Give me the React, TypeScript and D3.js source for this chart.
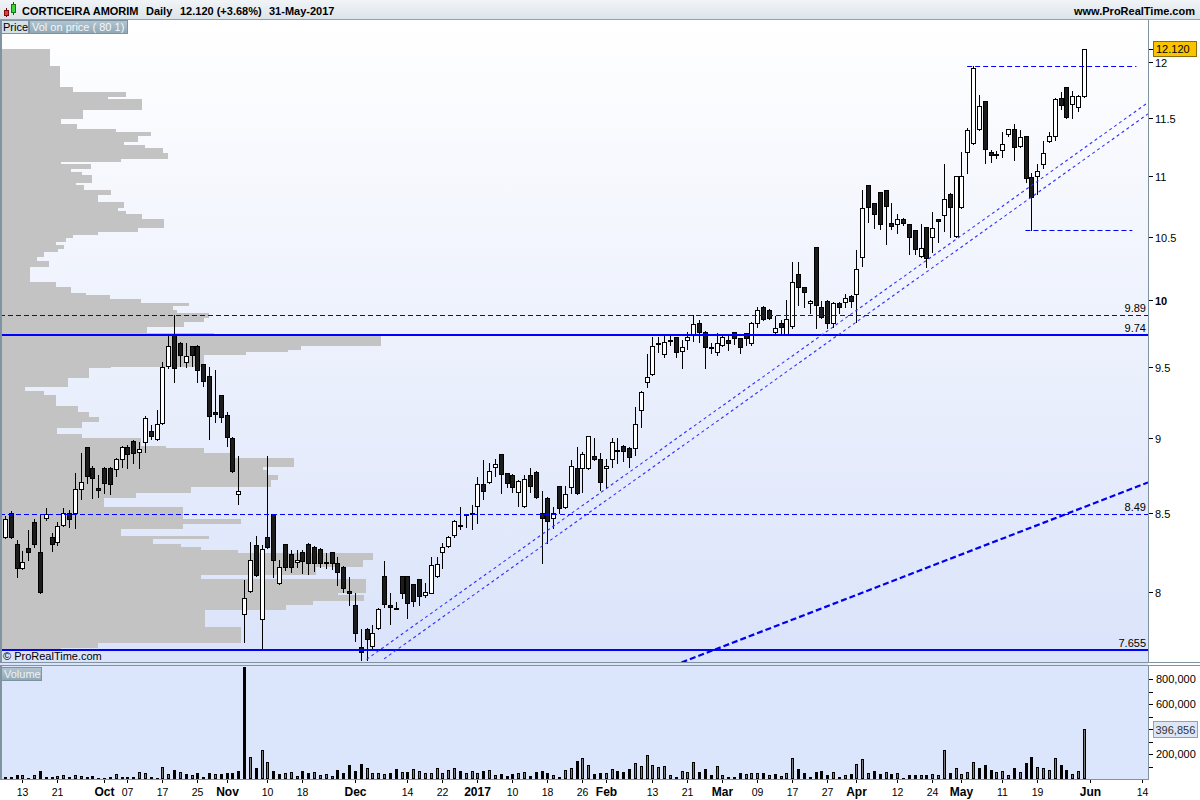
import React from 'react';
import * as d3 from 'd3';

const FONT = '"Liberation Sans", Arial, Helvetica, sans-serif';

// ---------- calendar (categories) ----------
const firstSession = '2016-09-08';
const lastAxisSession = '2017-06-14';
const marketHolidays = ['2016-12-26', '2017-04-14', '2017-04-17', '2017-05-01'];

// ---------- daily OHLC (EUR), 8-Sep-2016 .. 31-May-2017 ----------
const opens = [
  8.344, 8.499, 8.299, 8.148, 8.274, 8.440, 8.248, 8.466, 8.344, 8.312,
  8.421, 8.499, 8.499, 8.656, 8.939, 8.796, 8.662, 8.796, 8.796, 8.790,
  8.857, 8.939, 8.980, 8.904, 8.973, 9.049, 8.994, 9.104, 9.510, 9.738,
  9.679, 9.539, 9.657, 9.657, 9.525, 9.438, 9.181, 9.302, 9.160, 9.001,
  8.623, 7.866, 8.006, 8.293, 7.836, 8.344, 8.492, 8.055, 8.299, 8.236,
  8.186, 8.248, 8.299, 8.280, 8.267, 8.186, 8.248, 8.179, 8.154, 8.006,
  7.921, 7.670, 7.776, 7.676, 7.782, 8.099, 7.921, 7.902, 8.099, 8.099,
  8.049, 8.080, 7.982, 7.994, 8.099, 8.248, 8.286, 8.357, 8.421, 8.492,
  8.499, 8.544, 8.689, 8.703, 8.803, 8.891, 8.763, 8.749, 8.636, 8.544,
  8.749, 8.770, 8.499, 8.596, 8.466, 8.676, 8.538, 8.669, 8.796, 8.796,
  8.796, 8.877, 8.857, 8.796, 8.857, 8.911, 8.946, 8.932, 8.932, 9.195,
  9.395, 9.452, 9.679, 9.598, 9.701, 9.723, 9.620, 9.701, 9.746, 9.828,
  9.761, 9.649, 9.613, 9.664, 9.701, 9.761, 9.716, 9.753, 9.679, 9.828,
  9.949, 9.926, 9.761, 9.828, 9.746, 9.806, 10.204, 10.102, 9.980, 10.417,
  9.949, 9.995, 9.828, 9.980, 9.988, 10.033, 10.049, 10.337, 10.923, 10.774,
  10.864, 10.881, 10.610, 10.602, 10.642, 10.602, 10.553, 10.345, 10.577, 10.497,
  10.642, 10.675, 10.848, 10.505, 10.740, 11.202, 11.279, 11.401, 11.647, 11.202,
  11.185, 11.219, 11.357, 11.401, 11.254, 11.340, 10.989, 10.998, 11.100, 11.296,
  11.340, 11.674, 11.773, 11.621, 11.594, 11.692,
];
const highs = [
  8.478, 8.512, 8.325, 8.255, 8.389, 8.459, 8.492, 8.531, 8.370, 8.440,
  8.531, 8.518, 8.763, 8.898, 8.939, 8.810, 8.749, 8.803, 8.803, 8.864,
  8.946, 8.952, 8.987, 8.973, 9.153, 9.090, 9.195, 9.539, 9.738, 9.890,
  9.686, 9.679, 9.657, 9.664, 9.525, 9.503, 9.481, 9.302, 9.181, 9.008,
  8.877, 8.074, 8.312, 8.350, 8.293, 8.877, 8.490, 8.198, 8.299, 8.261,
  8.261, 8.261, 8.306, 8.286, 8.274, 8.242, 8.248, 8.217, 8.161, 8.093,
  7.994, 7.776, 7.782, 7.800, 7.902, 8.192, 7.994, 7.939, 8.099, 8.099,
  8.049, 8.080, 8.055, 8.217, 8.217, 8.306, 8.350, 8.453, 8.538, 8.492,
  8.551, 8.736, 8.850, 8.830, 8.857, 8.891, 8.763, 8.756, 8.716, 8.749,
  8.796, 8.776, 8.643, 8.603, 8.538, 8.676, 8.676, 8.850, 8.939, 8.904,
  9.015, 9.001, 8.898, 8.857, 9.001, 9.001, 8.952, 8.939, 9.216, 9.330,
  9.598, 9.723, 9.723, 9.738, 9.731, 9.723, 9.701, 9.761, 9.890, 9.851,
  9.768, 9.679, 9.753, 9.731, 9.731, 9.761, 9.716, 9.753, 9.836, 9.949,
  9.957, 9.934, 9.881, 9.851, 10.003, 10.297, 10.297, 10.102, 10.003, 10.417,
  9.995, 10.003, 9.988, 9.988, 10.049, 10.041, 10.393, 10.881, 10.923, 10.774,
  10.864, 10.881, 10.774, 10.683, 10.650, 10.602, 10.553, 10.602, 10.577, 10.700,
  10.642, 11.100, 10.856, 10.998, 11.202, 11.409, 11.964, 11.701, 11.647, 11.219,
  11.211, 11.375, 11.401, 11.445, 11.392, 11.340, 11.024, 11.100, 11.296, 11.375,
  11.674, 11.728, 11.773, 11.737, 11.701, 12.120,
];
const lows = [
  8.338, 8.338, 8.093, 8.142, 8.198, 8.280, 7.995, 8.453, 8.255, 8.293,
  8.415, 8.408, 8.402, 8.590, 8.696, 8.596, 8.603, 8.630, 8.623, 8.743,
  8.803, 8.796, 8.830, 8.796, 8.904, 8.994, 8.987, 9.097, 9.496, 9.395,
  9.510, 9.503, 9.510, 9.395, 9.366, 8.994, 9.111, 9.111, 8.946, 8.770,
  8.557, 7.700, 8.000, 8.099, 7.655, 8.274, 8.093, 8.049, 8.136, 8.124,
  8.154, 8.117, 8.111, 8.130, 8.154, 8.148, 8.142, 8.043, 8.000, 7.921,
  7.705, 7.594, 7.594, 7.653, 7.776, 7.909, 7.806, 7.896, 7.963, 7.842,
  7.915, 7.921, 7.970, 7.994, 8.093, 8.148, 8.280, 8.344, 8.395, 8.408,
  8.395, 8.434, 8.590, 8.696, 8.743, 8.630, 8.669, 8.636, 8.544, 8.538,
  8.636, 8.596, 8.179, 8.306, 8.402, 8.499, 8.531, 8.630, 8.625, 8.636,
  8.790, 8.850, 8.649, 8.662, 8.803, 8.830, 8.843, 8.803, 8.884, 9.076,
  9.359, 9.445, 9.613, 9.576, 9.664, 9.576, 9.496, 9.634, 9.694, 9.686,
  9.496, 9.605, 9.590, 9.657, 9.627, 9.672, 9.605, 9.664, 9.664, 9.798,
  9.851, 9.858, 9.738, 9.738, 9.738, 9.791, 9.965, 9.949, 9.904, 9.791,
  9.866, 9.791, 9.798, 9.904, 9.949, 9.949, 9.836, 10.267, 10.618, 10.569,
  10.561, 10.441, 10.561, 10.529, 10.594, 10.361, 10.361, 10.337, 10.259, 10.377,
  10.457, 10.545, 10.497, 10.497, 10.732, 11.024, 11.271, 11.392, 11.108, 11.117,
  11.150, 11.159, 11.340, 11.133, 11.245, 10.947, 10.550, 10.848, 11.066, 11.288,
  11.305, 11.577, 11.497, 11.497, 11.559, 11.683,
];
const closes = [
  8.459, 8.344, 8.148, 8.186, 8.248, 8.299, 8.000, 8.492, 8.299, 8.415,
  8.499, 8.459, 8.656, 8.703, 8.743, 8.729, 8.649, 8.696, 8.689, 8.857,
  8.939, 8.891, 8.898, 8.925, 9.139, 9.015, 9.097, 9.503, 9.657, 9.496,
  9.590, 9.583, 9.590, 9.481, 9.402, 9.153, 9.167, 9.146, 9.008, 8.776,
  8.643, 7.963, 8.198, 8.105, 8.267, 8.280, 8.198, 8.154, 8.154, 8.154,
  8.198, 8.192, 8.179, 8.179, 8.179, 8.179, 8.179, 8.124, 8.025, 7.994,
  7.752, 7.641, 7.717, 7.752, 7.896, 7.927, 7.909, 7.896, 7.994, 7.933,
  7.945, 7.976, 8.000, 8.167, 8.173, 8.280, 8.344, 8.446, 8.415, 8.486,
  8.492, 8.689, 8.643, 8.776, 8.823, 8.756, 8.696, 8.669, 8.709, 8.723,
  8.676, 8.603, 8.466, 8.446, 8.499, 8.531, 8.623, 8.810, 8.630, 8.891,
  9.015, 8.857, 8.703, 8.810, 8.973, 8.915, 8.911, 8.870, 9.097, 9.323,
  9.431, 9.657, 9.672, 9.686, 9.705, 9.613, 9.649, 9.723, 9.821, 9.761,
  9.649, 9.645, 9.679, 9.723, 9.679, 9.716, 9.649, 9.716, 9.828, 9.926,
  9.858, 9.866, 9.791, 9.798, 9.858, 10.141, 10.102, 10.064, 9.995, 9.965,
  9.874, 9.828, 9.980, 9.949, 10.018, 9.995, 10.243, 10.732, 10.740, 10.683,
  10.602, 10.748, 10.585, 10.642, 10.610, 10.497, 10.401, 10.409, 10.329, 10.569,
  10.626, 10.806, 10.740, 10.998, 10.998, 11.392, 11.945, 11.603, 11.228, 11.176,
  11.180, 11.271, 11.401, 11.245, 11.331, 10.981, 10.823, 11.040, 11.194, 11.340,
  11.665, 11.612, 11.506, 11.692, 11.692, 12.120,
];
const volumes = [
  13000, 19000, 32000, 32000, 11000, 32000, 64000, 19000, 19000, 24000,
  32000, 19000, 32000, 24000, 19000, 24000, 11000, 11000, 19000, 40000,
  19000, 13000, 19000, 53000, 45000, 19000, 11000, 93000, 37000, 72000,
  53000, 40000, 32000, 45000, 19000, 45000, 37000, 40000, 45000, 45000,
  64000, 898000, 173000, 85000, 232000, 133000, 64000, 37000, 45000, 53000,
  24000, 64000, 45000, 53000, 32000, 37000, 24000, 72000, 45000, 112000,
  64000, 120000, 85000, 45000, 45000, 40000, 45000, 80000, 53000, 53000,
  80000, 64000, 45000, 45000, 85000, 45000, 72000, 85000, 64000, 45000,
  64000, 45000, 64000, 72000, 32000, 37000, 24000, 37000, 45000, 53000,
  24000, 53000, 64000, 45000, 32000, 13000, 72000, 85000, 144000, 165000,
  112000, 40000, 45000, 45000, 80000, 64000, 53000, 80000, 125000, 104000,
  189000, 112000, 93000, 104000, 32000, 19000, 64000, 53000, 133000, 53000,
  80000, 32000, 104000, 32000, 19000, 13000, 45000, 37000, 45000, 45000,
  45000, 32000, 40000, 24000, 45000, 165000, 80000, 45000, 19000, 53000,
  64000, 32000, 53000, 13000, 32000, 37000, 117000, 160000, 45000, 64000,
  37000, 53000, 37000, 45000, 5000, 32000, 32000, 32000, 32000, 37000,
  32000, 232000, 45000, 85000, 37000, 53000, 133000, 85000, 112000, 72000,
  53000, 64000, 32000, 85000, 53000, 125000, 173000, 93000, 85000, 72000,
  165000, 112000, 72000, 37000, 64000, 396856,
];

// ---------- volume on price profile (row bounds in EUR, relative volume) ----------
const profileLevels = [
  7.653, 7.664, 7.694, 7.789, 7.891, 7.921, 7.945, 7.982, 7.994, 8.080,
  8.105, 8.154, 8.198, 8.242, 8.261, 8.280, 8.299, 8.331, 8.350, 8.395,
  8.427, 8.460, 8.538, 8.597, 8.630, 8.669, 8.716, 8.749, 8.783, 8.803,
  8.864, 8.898, 8.932, 8.946, 9.000, 9.028, 9.070, 9.111, 9.146, 9.181,
  9.224, 9.302, 9.330, 9.359, 9.423, 9.496, 9.503, 9.591, 9.613, 9.627,
  9.657, 9.731, 9.753, 9.798, 9.836, 9.866, 9.904, 9.927, 9.957, 9.980,
  10.011, 10.041, 10.057, 10.103, 10.142, 10.259, 10.306, 10.337, 10.377, 10.401,
  10.433, 10.457, 10.489, 10.513, 10.537, 10.569, 10.642, 10.683, 10.708, 10.732,
  10.782, 10.840, 10.881, 10.923, 10.940, 11.007, 11.032, 11.057, 11.100, 11.117,
  11.142, 11.194, 11.236, 11.262, 11.288, 11.340, 11.375, 11.401, 11.445, 11.489,
  11.568, 11.666, 11.684, 11.728, 11.773, 11.964, 12.121,
];
const profileVolumes = [
  60, 97, 240, 204, 285, 312, 363, 337, 365, 200,
  315, 362, 372, 237, 200, 180, 152, 208, 120, 182,
  240, 182, 103, 135, 190, 270, 277, 267, 262, 293,
  233, 203, 165, 140, 81, 56, 81, 98, 88, 77,
  55, 43, 24, 67, 88, 110, 203, 245, 287, 300,
  380, 213, 146, 183, 203, 208, 176, 172, 188, 140,
  109, 85, 70, 55, 29, 48, 36, 43, 57, 63,
  55, 65, 72, 97, 137, 163, 141, 125, 117, 123,
  97, 110, 83, 75, 91, 81, 70, 90, 60, 120,
  167, 162, 144, 123, 137, 150, 115, 76, 60, 82,
  141, 107, 125, 72, 59, 49,
];

// ---------- axes ----------
const priceTicks = [8, 8.5, 9, 9.5, 10, 10.5, 11, 11.5, 12];
const volumeTicks = [100000, 200000, 300000, 400000, 500000, 600000, 700000, 800000];
const volumeTickLabels = [200000, 600000, 800000];
const xTickDates = [
  '2016-09-13', '2016-09-21', '2016-10-03', '2016-10-07', '2016-10-17', '2016-10-25',
  '2016-11-01', '2016-11-10', '2016-11-18', '2016-12-01', '2016-12-14', '2016-12-22',
  '2017-01-02', '2017-01-10', '2017-01-18', '2017-01-26', '2017-02-01', '2017-02-13',
  '2017-02-21', '2017-03-01', '2017-03-09', '2017-03-17', '2017-03-27', '2017-04-03',
  '2017-04-12', '2017-04-24', '2017-05-02', '2017-05-11', '2017-05-19', '2017-06-01',
  '2017-06-14',
];
const xTickLabels = [
  '13', '21', 'Oct', '07', '17', '25', 'Nov', '10', '18', 'Dec', '14', '22', '2017', '10',
  '18', '26', 'Feb', '13', '21', 'Mar', '09', '17', '27', 'Apr', '12', '24', 'May', '11',
  '19', 'Jun', '14',
];

// ---------- drawn levels ----------
const levelPrices = [9.89, 9.74, 8.49, 7.655];
const levelLabels = ['9.89', '9.74', '8.49', '7.655'];
const levelSolid = [false, true, false, true];
const shortLevelPrices = [11.964, 10.55];
const shortLevelFrom = [166, 176];
const shortLevelTo = [194, 193.3];
const trendFrom = [[62, 7.598], [65, 7.601], [116, 7.58]];
const trendTo = [[185, 11.235], [185, 11.137], [196, 8.7]];
const trendThick = [false, false, true];

const lastPrice = 12.12;
const lastVolume = 396856;

function buildSessions(): string[] {
  const out: string[] = [];
  const d = new Date(firstSession + 'T12:00:00Z');
  const end = new Date(lastAxisSession + 'T12:00:00Z');
  while (d <= end) {
    const dow = d.getUTCDay();
    const s = d.toISOString().slice(0, 10);
    if (dow !== 0 && dow !== 6 && !marketHolidays.includes(s)) out.push(s);
    d.setUTCDate(d.getUTCDate() + 1);
  }
  return out;
}

export default function App() {
  const W = 1200;
  const H = 800;
  const plotR = 1148;
  const priceTop = 20;
  const priceBottom = 662;
  const volTop = 666;
  const volBottom = 779;

  const sessions = buildSessions();
  const last = sessions.length - 1;
  const x = d3.scaleLinear().domain([0, last]).range([5, 5 + last * 5.832]);
  const y = d3.scaleLog().domain([8, 12]).range([592, 62.1]);
  const yv = d3.scaleLinear().domain([0, 800000]).range([volBottom, 679]);
  const xp = d3.scaleLinear().domain([0, 380]).range([1, 381]);
  const fmt = d3.format(',');

  const trendSegs = trendFrom.map((f, k) => {
    const x1 = x(f[0]);
    const y1 = y(f[1]);
    const x2 = x(trendTo[k][0]);
    const y2 = y(trendTo[k][1]);
    const slope = (y2 - y1) / (x2 - x1);
    return { x1, y1, x2: plotR, y2: y1 + slope * (plotR - x1), thick: trendThick[k] };
  });

  return (
    <svg
      width={W}
      height={H}
      viewBox={`0 0 ${W} ${H}`}
      style={{ position: 'absolute', left: 0, top: 0, display: 'block', background: '#fff' }}
      fontFamily={FONT}
    >
      <defs>
        <linearGradient id="pg" x1="0" y1="0" x2="0" y2="1">
          <stop offset="0" stopColor="#ffffff" />
          <stop offset="1" stopColor="#dae3fa" />
        </linearGradient>
        <linearGradient id="hg" x1="0" y1="0" x2="0" y2="1">
          <stop offset="0" stopColor="#f1f4f7" />
          <stop offset="1" stopColor="#dbe3e9" />
        </linearGradient>
        <linearGradient id="tab" x1="0" y1="0" x2="0" y2="1">
          <stop offset="0" stopColor="#b3c6d1" />
          <stop offset="1" stopColor="#8fa7b5" />
        </linearGradient>
        <clipPath id="pclip">
          <rect x={1} y={priceTop} width={plotR - 1} height={priceBottom - priceTop} />
        </clipPath>
        <clipPath id="vclip">
          <rect x={1} y={volTop} width={plotR - 1} height={volBottom - volTop} />
        </clipPath>
      </defs>

      {/* header */}
      <rect x={0} y={0} width={W} height={20} fill="url(#hg)" />
      <line x1={0} x2={W} y1={19.5} y2={19.5} stroke="#8ea2af" />
      <g shapeRendering="crispEdges">
        <line x1={6.5} x2={6.5} y1={8} y2={17} stroke="#600" />
        <rect x={4.5} y={10.5} width={4} height={5} fill="#e04040" stroke="#7a1010" />
        <line x1={13.5} x2={13.5} y1={2} y2={15} stroke="#060" />
        <rect x={11.5} y={4.5} width={4} height={8} fill="#40d040" stroke="#107a10" />
      </g>
      <g fontSize={11} fontWeight="bold" fill="#000">
        <text x={22} y={15}>CORTICEIRA AMORIM</text>
        <text x={146} y={15}>Daily</text>
        <text x={180} y={15}>12.120 (+3.68%)</text>
        <text x={269} y={15}>31-May-2017</text>
        <text x={1195} y={15} textAnchor="end">www.ProRealTime.com</text>
      </g>

      {/* price panel background */}
      <rect x={1} y={priceTop} width={plotR - 1} height={priceBottom - priceTop} fill="url(#pg)" />

      <g clipPath="url(#pclip)">
        {/* volume on price */}
        <g shapeRendering="crispEdges">
          {profileVolumes.map((v, k) => {
            const yTop = Math.round(y(profileLevels[k + 1]));
            const yBot = Math.round(y(profileLevels[k]));
            return (
              <rect
                key={'pv' + k}
                x={1}
                y={yTop}
                width={Math.max(0, Math.round(xp(v)) - 1)}
                height={Math.max(1, yBot - yTop)}
                fill="#c3c3c3"
              />
            );
          })}
        </g>

        {/* candles */}
        <g shapeRendering="crispEdges">
          {closes.map((c, i) => {
            const o = opens[i];
            const cx = Math.round(x(i));
            const top = Math.round(y(Math.max(o, c)));
            const bot = Math.round(y(Math.min(o, c)));
            const up = c >= o;
            return (
              <g key={'c' + i}>
                <line
                  x1={cx + 0.5}
                  x2={cx + 0.5}
                  y1={Math.round(y(highs[i]))}
                  y2={Math.round(y(lows[i])) + 1}
                  stroke="#000"
                />
                <rect
                  x={cx - 1.5}
                  y={top + 0.5}
                  width={4}
                  height={Math.max(bot - top, 1)}
                  fill={up ? '#ffffff' : '#1c1c1c'}
                  stroke="#000"
                />
              </g>
            );
          })}
        </g>

        {/* horizontal levels */}
        {levelPrices.map((p, k) => {
          const yy = Math.round(y(p));
          return levelSolid[k] ? (
            <line key={'lv' + k} x1={0} x2={plotR} y1={yy} y2={yy} stroke="#0000ff" strokeWidth={2} />
          ) : (
            <line
              key={'lv' + k}
              x1={0}
              x2={plotR}
              y1={yy + 0.5}
              y2={yy + 0.5}
              stroke="#0000ff"
              strokeWidth={1}
              strokeDasharray="5,3"
            />
          );
        })}
        {shortLevelPrices.map((p, k) => {
          const yy = Math.round(y(p)) + 0.5;
          return (
            <line
              key={'sl' + k}
              x1={x(shortLevelFrom[k]) - 6}
              x2={x(shortLevelTo[k])}
              y1={yy}
              y2={yy}
              stroke="#0000ff"
              strokeWidth={1}
              strokeDasharray="5,3"
            />
          );
        })}

        {/* trend lines */}
        {trendSegs.map((s, k) => (
          <line
            key={'tl' + k}
            x1={s.x1}
            y1={s.y1}
            x2={s.x2}
            y2={s.y2}
            stroke={s.thick ? '#0000ee' : '#3030ff'}
            strokeWidth={s.thick ? 2.2 : 1.1}
            strokeDasharray={s.thick ? '6,3' : '3,3'}
          />
        ))}

        {/* level labels */}
        <g fontSize={11} fill="#000">
          {levelPrices.map((p, k) => (
            <text key={'ll' + k} x={1146} y={Math.round(y(p)) - 3} textAnchor="end">
              {levelLabels[k]}
            </text>
          ))}
        </g>

        <text x={3} y={660} fontSize={11} fill="#000">
          © ProRealTime.com
        </text>
      </g>

      {/* tabs */}
      <g shapeRendering="crispEdges">
        <rect x={1.5} y={20.5} width={27} height={13} fill="#d5dfe6" stroke="#7d93a1" />
        <rect x={29.5} y={20.5} width={98} height={13} fill="url(#tab)" stroke="#7d93a1" />
      </g>
      <text x={3} y={31} fontSize={11} fill="#000">Price</text>
      <text x={32} y={31} fontSize={11} fill="#f4f7f9">Vol on price ( 80 1)</text>

      {/* price panel frame */}
      <g shapeRendering="crispEdges" fill="none" stroke="#8093a0">
        <line x1={0.5} x2={0.5} y1={priceTop} y2={priceBottom} strokeWidth={2} />
        <line x1={0} x2={W} y1={priceBottom + 0.5} y2={priceBottom + 0.5} />
        <line x1={plotR + 0.5} x2={plotR + 0.5} y1={priceTop} y2={priceBottom} />
      </g>
      <rect x={0} y={priceBottom + 1} width={plotR} height={3} fill="#dbe4f6" />

      {/* price axis */}
      <g fontSize={11} fill="#000" shapeRendering="crispEdges">
        {priceTicks.map((t) => {
          const yy = Math.round(y(t)) + 0.5;
          return (
            <g key={'pt' + t}>
              <line x1={plotR + 1} x2={plotR + 5} y1={yy} y2={yy} stroke="#000" />
              <text x={1155} y={yy + 4} fontWeight={t === 10 ? 'bold' : 'normal'}>
                {String(t)}
              </text>
            </g>
          );
        })}
      </g>
      <g>
        <line
          x1={plotR + 1}
          x2={plotR + 5}
          y1={Math.round(y(lastPrice)) + 0.5}
          y2={Math.round(y(lastPrice)) + 0.5}
          stroke="#000"
        />
        <rect
          x={1153.5}
          y={Math.round(y(lastPrice)) - 7.5}
          width={43}
          height={15}
          fill="#f8c400"
          stroke="#8a6d00"
        />
        <text x={1156} y={Math.round(y(lastPrice)) + 4} fontSize={11} fill="#000">
          12.120
        </text>
      </g>

      {/* volume panel */}
      <rect x={1} y={volTop} width={plotR - 1} height={volBottom - volTop} fill="#dbe5fc" />
      <g clipPath="url(#vclip)" shapeRendering="crispEdges">
        {volumes.map((v, i) => {
          const cx = Math.round(x(i));
          const up = i === 0 ? closes[0] >= opens[0] : closes[i] >= closes[i - 1];
          const top = Math.round(yv(v));
          return (
            <rect
              key={'v' + i}
              x={cx - 0.5}
              y={top + 0.5}
              width={2}
              height={Math.max(1, volBottom - top - 1)}
              fill={up ? '#7d7d7d' : '#000'}
              stroke="#000"
            />
          );
        })}
      </g>
      <g shapeRendering="crispEdges" fill="none" stroke="#8093a0">
        <line x1={0} x2={W} y1={volTop - 0.5} y2={volTop - 0.5} />
        <line x1={0.5} x2={0.5} y1={volTop} y2={volBottom} strokeWidth={2} />
        <line x1={0} x2={plotR + 1} y1={volBottom + 0.5} y2={volBottom + 0.5} />
        <line x1={plotR + 0.5} x2={plotR + 0.5} y1={volTop} y2={volBottom} />
      </g>
      <rect x={1.5} y={volTop + 1.5} width={40} height={13} fill="url(#tab)" stroke="#7d93a1" shapeRendering="crispEdges" />
      <text x={4} y={volTop + 12} fontSize={11} fill="#eef2f5">Volume</text>

      {/* volume axis */}
      <g fontSize={11} fill="#000" shapeRendering="crispEdges">
        {volumeTicks.map((t) => {
          const yy = Math.round(yv(t)) + 0.5;
          return <line key={'vt' + t} x1={plotR + 1} x2={plotR + 5} y1={yy} y2={yy} stroke="#000" />;
        })}
        {volumeTickLabels.map((t) => (
          <text key={'vl' + t} x={1156} y={Math.round(yv(t)) + 4}>
            {fmt(t)}
          </text>
        ))}
      </g>
      <rect
        x={1153.5}
        y={Math.round(yv(lastVolume)) - 7.5}
        width={44}
        height={16}
        fill="#dde6f7"
        stroke="#8ea3b0"
        shapeRendering="crispEdges"
      />
      <text x={1155.5} y={Math.round(yv(lastVolume)) + 4.5} fontSize={11} fill="#333">
        {fmt(lastVolume)}
      </text>

      {/* x axis */}
      <g fill="#000">
        {xTickDates.map((d, k) => {
          const idx = sessions.indexOf(d);
          const xx = Math.round(x(idx)) + 0.5;
          const major = xTickLabels[k].length >= 3;
          return (
            <g key={'xt' + k}>
              <line x1={xx} x2={xx} y1={volBottom + 1} y2={volBottom + 4} stroke="#000" shapeRendering="crispEdges" />
              <text
                x={xx}
                y={796}
                textAnchor="middle"
                fontSize={major ? 12 : 10.5}
                fontWeight={major ? 'bold' : 'normal'}
              >
                {xTickLabels[k]}
              </text>
            </g>
          );
        })}
      </g>
    </svg>
  );
}
